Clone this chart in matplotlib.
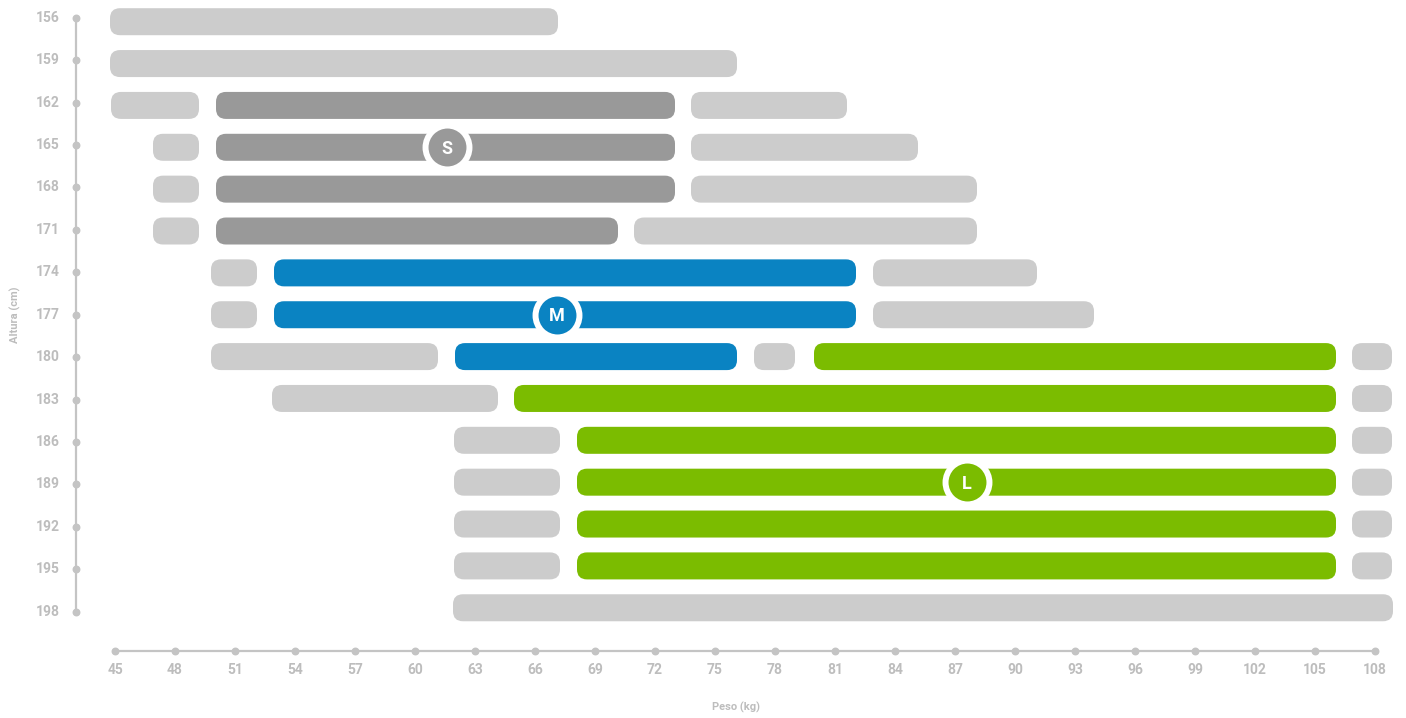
import matplotlib
matplotlib.use("Agg")
import matplotlib.pyplot as plt
from matplotlib.patches import FancyBboxPatch

# tallas: alturas (cm) y pesos (kg)
alturas = [156, 159, 162, 165, 168, 171, 174, 177, 180, 183, 186, 189, 192, 195, 198]
pesos = list(range(45, 109, 3))

# tramos por fila: (inicio, fin, talla) ; "g" = gris claro
tramos = {
    156: [(44.75, 67.15, "g")],
    159: [(44.75, 76.1, "g")],
    162: [(44.8, 49.2, "g"), (50.05, 73.0, "S"), (73.8, 81.6, "g")],
    165: [(46.9, 49.2, "g"), (50.05, 73.0, "S"), (73.8, 85.15, "g")],
    168: [(46.9, 49.2, "g"), (50.05, 73.0, "S"), (73.8, 88.1, "g")],
    171: [(46.9, 49.2, "g"), (50.05, 70.15, "S"), (70.95, 88.1, "g")],
    174: [(49.8, 52.1, "g"), (52.95, 82.05, "M"), (82.9, 91.1, "g")],
    177: [(49.8, 52.1, "g"), (52.95, 82.05, "M"), (82.9, 93.95, "g")],
    180: [(49.8, 61.15, "g"), (62.0, 76.1, "M"), (76.95, 79.0, "g"),
          (79.95, 106.05, "L"), (106.85, 108.85, "g")],
    183: [(52.85, 64.15, "g"), (64.95, 106.05, "L"), (106.85, 108.85, "g")],
    186: [(61.95, 67.25, "g"), (68.1, 106.05, "L"), (106.85, 108.85, "g")],
    189: [(61.95, 67.25, "g"), (68.1, 106.05, "L"), (106.85, 108.85, "g")],
    192: [(61.95, 67.25, "g"), (68.1, 106.05, "L"), (106.85, 108.85, "g")],
    195: [(61.95, 67.25, "g"), (68.1, 106.05, "L"), (106.85, 108.85, "g")],
    198: [(61.9, 108.9, "g")],
}

# etiquetas de talla: (peso, altura, letra)
marcas = [(61.6, 165, "S"), (67.1, 177, "M"), (87.6, 189, "L")]

colores = {"g": "#cccccc", "S": "#999999", "M": "#0a83c2", "L": "#7bbc00"}
gris_txt = "#bdbdbd"

fig = plt.figure(figsize=(14.06, 7.18), dpi=100)
ax = fig.add_axes([0, 0, 1, 1])
ax.set_xlim(39.25, 109.55)
ax.set_ylim(205.90, 154.445)

px_x = 20.0            # px por kg
px_y = 41.86 / 3.0     # px por cm
alto = 27 / px_y
r = 0.5
for h in alturas:
    for a, b, t in tramos[h]:
        p = FancyBboxPatch((a, h - alto / 2), b - a, alto,
                           boxstyle="round,pad=0,rounding_size=%f" % r,
                           mutation_aspect=px_x / px_y,
                           fc=colores[t], ec="none", zorder=2)
        ax.add_patch(p)

for x, y, t in marcas:
    ax.scatter([x], [y], s=1000, c=colores[t], edgecolors="white",
               linewidths=4.3, zorder=4)
    ax.text(x, y + 0.1, t, color="white", fontsize=13, fontweight="bold",
            family="Roboto", ha="center", va="center", zorder=5)

# ejes (las marcas del eje están un poco más separadas que las filas)
def y_marca(h):
    return 177 + (h - 177) * 1.0136

x_eje = 43.05
y_eje = 201.08
ym = [y_marca(h) for h in alturas]
ax.plot([x_eje, x_eje], [ym[0], ym[-1]], color="#c4c4c4", lw=1.6, zorder=1)
ax.scatter([x_eje] * len(alturas), ym, s=22, color="#c4c4c4", zorder=1)
ax.plot([45, 108], [y_eje, y_eje], color="#c4c4c4", lw=1.6, zorder=1)
ax.scatter(pesos, [y_eje] * len(pesos), s=22, color="#c4c4c4", zorder=1)

for h, y in zip(alturas, ym):
    ax.text(x_eje - 0.8, y, str(h), color=gris_txt, fontsize=10,
            fontweight="bold", family="Roboto", ha="right", va="center")
for p in pesos:
    ax.text(p, y_eje + 1.38, str(p), color=gris_txt, fontsize=10,
            fontweight="bold", family="Roboto", ha="center", va="center")

ax.text(40.0, 177, "Altura (cm)", color=gris_txt, fontsize=8,
        fontweight="bold", family="Roboto", rotation=90,
        ha="center", va="center")
ax.text(76.05, 205.12, "Peso (kg)", color=gris_txt, fontsize=8,
        fontweight="bold", family="Roboto", ha="center", va="center")

ax.axis("off")
fig.savefig("out.png", dpi=100)
